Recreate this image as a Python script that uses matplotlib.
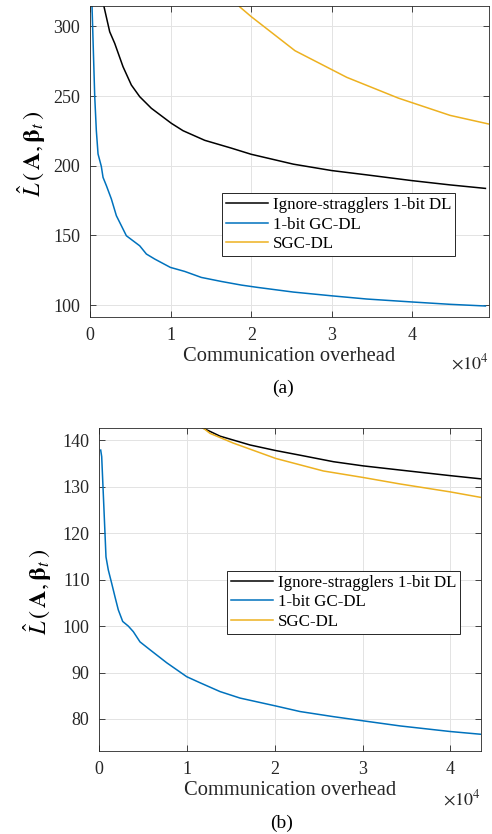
import matplotlib

matplotlib.use("Agg")
import matplotlib.pyplot as plt
import numpy as np

plt.rcParams["font.family"] = ["Liberation Serif", "DejaVu Serif"]
plt.rcParams["mathtext.fontset"] = "stix"

# (a) curves: communication overhead vs loss
a_ign_x = [1500, 1737, 2440, 3060, 4094, 5124, 6166, 7606, 10090, 11540, 14230, 17530,
           19980, 25220, 29980, 34330, 39910, 44670, 49050]
a_ign_y = [330, 314.0, 296.1, 287.8, 271.0, 257.9, 249.5, 241.2, 230.4, 225.1, 218.2,
           212.6, 208.2, 201.1, 196.5, 193.4, 189.3, 186.2, 183.7]

a_gc_x = [150, 248, 583, 782, 993, 1400, 1613, 2026, 2646, 3267, 3888, 4508, 5335, 6162,
          6989, 8023, 9967, 11750, 13810, 16300, 18780, 20840, 25220, 29980, 34330,
          39910, 44670, 49050]
a_gc_y = [330, 314.0, 249.5, 225.1, 208.4, 199.5, 191.6, 185.7, 176.1, 164.1, 156.9,
          149.7, 146.1, 142.5, 136.6, 133.0, 127.0, 124.1, 119.8, 116.9, 114.3, 112.6,
          109.3, 106.6, 104.3, 102.2, 100.5, 99.3]

a_sgc_x = [17500, 18570, 20010, 25430, 31850, 38250, 44670, 49460]
a_sgc_y = [325, 314.0, 306.9, 282.5, 263.4, 248.5, 236.1, 229.9]

# (b) curves
b_ign_x = [11000, 11870, 13760, 17180, 20110, 22880, 26680, 30070, 34290, 39990, 43520]
b_ign_y = [143.5, 142.6, 140.9, 139.0, 137.8, 136.8, 135.4, 134.5, 133.6, 132.4, 131.7]

b_gc_x = [160, 274, 536, 764, 1026, 1414, 1790, 2166, 2668, 3307, 3877, 4640, 5780, 7685,
          9965, 11480, 13760, 16040, 20110, 22880, 26680, 30070, 34290, 39990, 43520]
b_gc_y = [137.9, 136.5, 125.0, 114.9, 112.1, 109.2, 106.3, 103.5, 101.0, 100.0, 98.8, 96.6,
          94.9, 92.1, 89.1, 87.8, 85.9, 84.5, 82.8, 81.6, 80.5, 79.6, 78.5, 77.3, 76.7]

b_sgc_x = [11000, 11870, 12620, 15280, 20110, 25540, 30070, 34290, 39990, 43520]
b_sgc_y = [143.5, 142.6, 141.5, 139.4, 136.1, 133.4, 132.0, 130.6, 128.9, 127.7]

labels = ["Ignore-stragglers 1-bit DL", "1-bit GC-DL", "SGC-DL"]
colors = ["#000000", "#0072BD", "#EDB120"]

ylabel = r"$\hat{L}\,(\,\mathbf{A},\mathbf{\beta}_t\,)$"


def style_axes(ax, xticks, yticks, xlim, ylim):
    ax.set_xlim(*xlim)
    ax.set_ylim(*ylim)
    ax.set_xticks(xticks)
    ax.set_xticklabels([str(int(t / 1e4)) for t in xticks])
    ax.set_yticks(yticks)
    ax.tick_params(direction="in", top=True, right=True, length=4, width=0.6,
                   labelsize=13, colors="#262626", pad=7)
    ax.grid(True, color="#e3e3e3", linewidth=0.7)
    ax.set_axisbelow(True)
    for s in ax.spines.values():
        s.set_color("#262626")
        s.set_linewidth(0.6)


def draw_legend(ax, anchor):
    leg = ax.legend(labels, loc="upper left", bbox_to_anchor=anchor, fontsize=12.2,
                    fancybox=False, edgecolor="#262626", framealpha=1,
                    handlelength=2.5, handletextpad=0.25, labelspacing=0.2,
                    borderpad=0.25, borderaxespad=0)
    leg.get_frame().set_linewidth(0.7)


fig = plt.figure(figsize=(4.92, 8.34), dpi=100)

ax1 = fig.add_axes([0.183, 0.6199, 0.811, 0.3729])
ax1.plot(a_ign_x, a_ign_y, color=colors[0], lw=1.1)
ax1.plot(a_gc_x, a_gc_y, color=colors[1], lw=1.1)
ax1.plot(a_sgc_x, a_sgc_y, color=colors[2], lw=1.1)
style_axes(ax1, [0, 10000, 20000, 30000, 40000], [100, 150, 200, 250, 300],
           (0, 49500), (91.4, 314.6))
draw_legend(ax1, (0.33, 0.399))
ax1.set_xlabel("Communication overhead", fontsize=14.8, color="#262626", labelpad=2)
fig.text(32 / 492, 1 - 154 / 834, ylabel, rotation=90, fontsize=17.5,
         ha="center", va="center")
fig.text(489 / 492, 1 - 363 / 834, r"$\times10^4$", fontsize=13, ha="right",
         va="center", color="#262626")
fig.text(283 / 492, 1 - 388 / 834, "(a)", fontsize=14, ha="center", va="center")

ax2 = fig.add_axes([0.2018, 0.0995, 0.7758, 0.387])
ax2.plot(b_ign_x, b_ign_y, color=colors[0], lw=1.1)
ax2.plot(b_gc_x, b_gc_y, color=colors[1], lw=1.1)
ax2.plot(b_sgc_x, b_sgc_y, color=colors[2], lw=1.1)
style_axes(ax2, [0, 10000, 20000, 30000, 40000], [80, 90, 100, 110, 120, 130, 140],
           (0, 43500), (73.1, 142.6))
draw_legend(ax2, (0.334, 0.559))
ax2.set_xlabel("Communication overhead", fontsize=14.8, color="#262626", labelpad=2)
fig.text(38 / 492, 1 - 592 / 834, ylabel, rotation=90, fontsize=17.5,
         ha="center", va="center")
fig.text(481 / 492, 1 - 799 / 834, r"$\times10^4$", fontsize=13, ha="right",
         va="center", color="#262626")
fig.text(282 / 492, 1 - 823 / 834, "(b)", fontsize=14, ha="center", va="center")

fig.savefig("out.png", dpi=100)
